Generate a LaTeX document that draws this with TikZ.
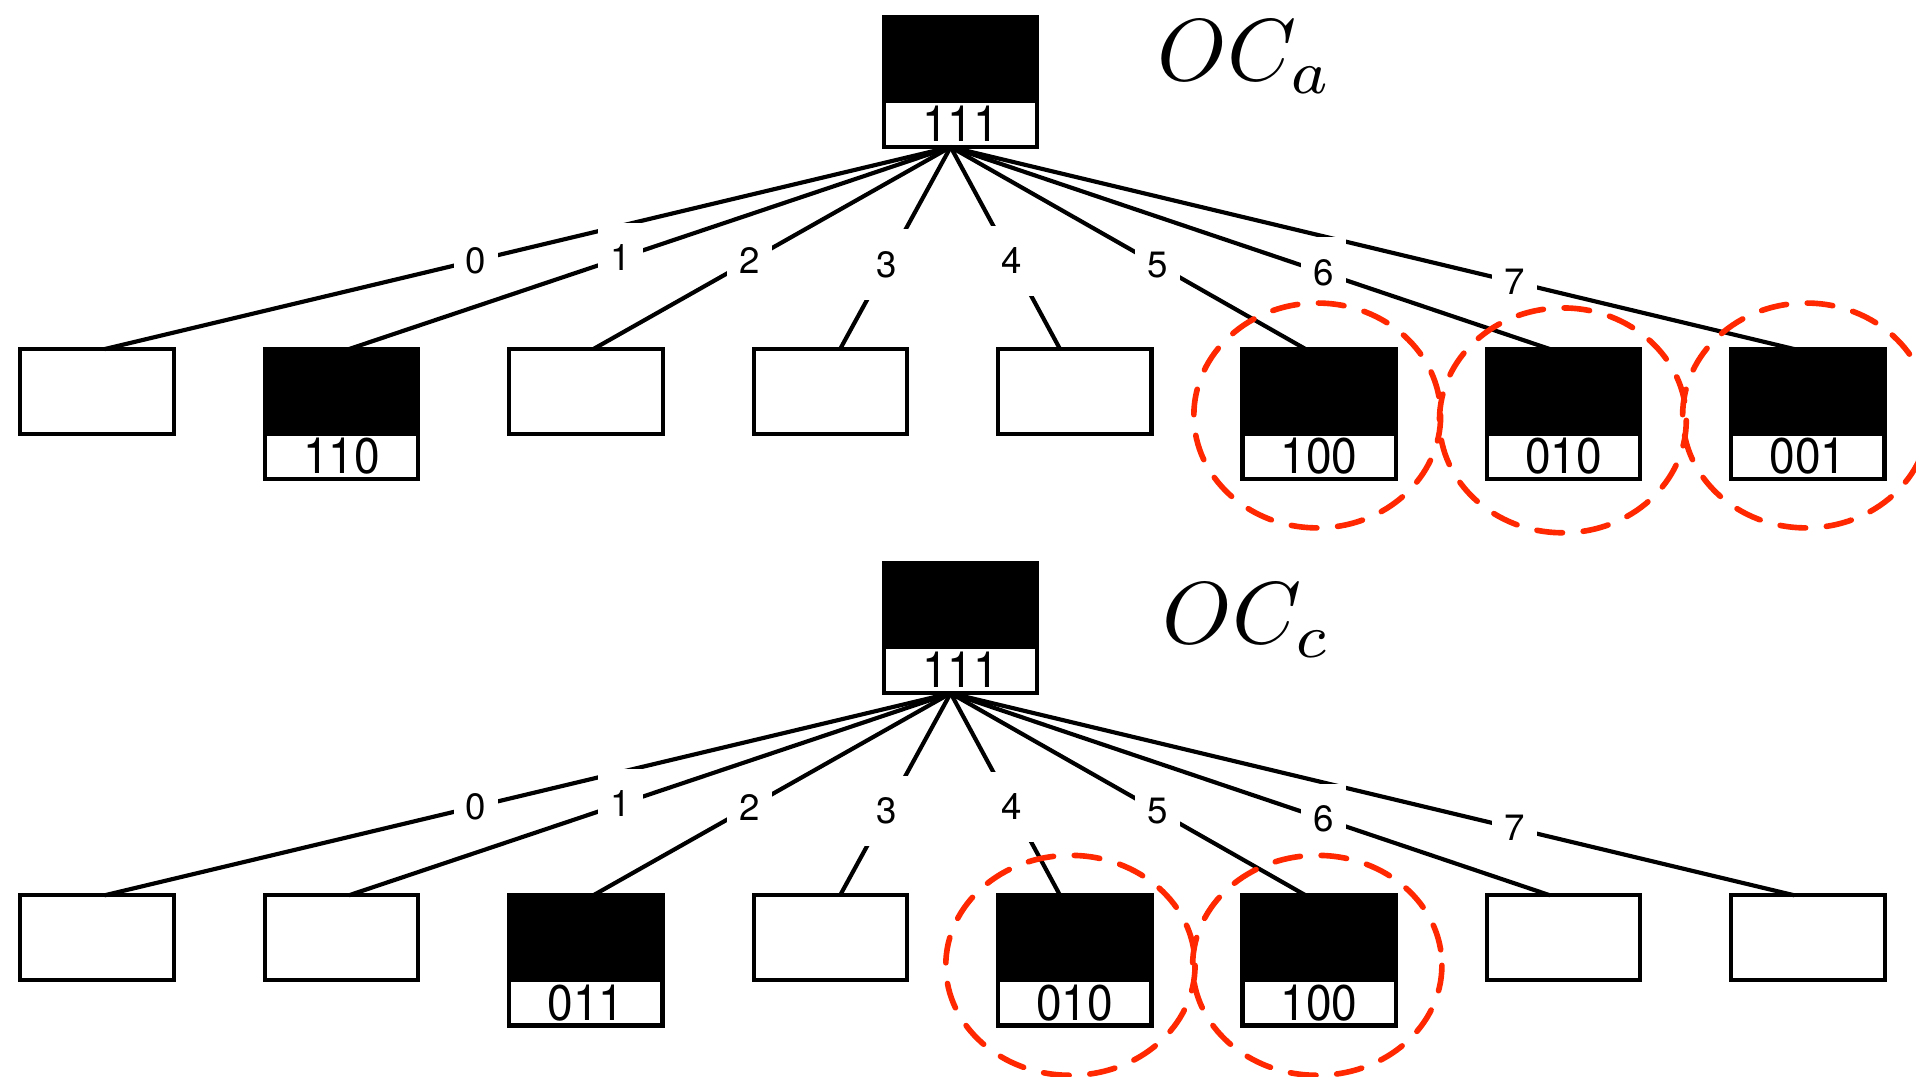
\documentclass[tikz,border=0pt]{standalone}
\usepackage{fontspec}
\setmainfont{TeX Gyre Heros}
\newfontfamily\tagfont[FakeStretch=0.92]{TeX Gyre Heros}
\usetikzlibrary{positioning}
\definecolor{pickred}{RGB}{255,40,0}

\begin{document}
\begin{tikzpicture}[
    x=1pt, y=-1pt,
    slot/.style={draw, line width=3.4pt, minimum width=125.6pt, minimum height=69.6pt, inner sep=0pt, outer sep=0pt},
    fullslot/.style={slot, fill=black, minimum height=106.6pt},
    rootslot/.style={fullslot, minimum width=124.6pt},
    tag/.style={fill=white, anchor=south, minimum width=122pt, minimum height=34pt, inner sep=0pt, text height=29pt, text depth=0pt, font=\tagfont\fontsize{41}{41}\selectfont},
    branch/.style={line width=3.4pt},
    digit/.style={fill=white, inner xsep=10pt, inner ysep=18pt, font=\fontsize{30}{30}\selectfont},
    title/.style={anchor=base west, inner sep=0pt, scale=7.2},
    pick/.style={draw=pickred, line width=4.6pt, dash pattern=on 21pt off 17pt, line cap=round}
]
\useasboundingbox (0,0) rectangle (1568,881);

% upper tree
\node[rootslot] (ra) at (786,67) {};
\node[tag] at ([yshift=1.7pt]ra.south) {111};
\node[title] (ta) at (946,66) {$OC_a$};
\foreach \i in {0,2,3,4} \node[slot] (a\i) at (79.5+200*\i,320.5) {};
\foreach \i/\t in {1/110,5/100,6/010,7/001} {
  \node[fullslot] (a\i) at (79.5+200*\i,339) {};
  \node[tag] at ([yshift=1.7pt]a\i.south) {\t};
}

% lower tree
\node[rootslot] (rc) at (786,514) {};
\node[tag] at ([yshift=1.7pt]rc.south) {111};
\node[title] (tc) at (950,527) {$OC_c$};
\foreach \i in {0,1,3,6,7} \node[slot] (c\i) at (79.5+200*\i,767.5) {};
\foreach \i/\t in {2/011,4/010,5/100} {
  \node[fullslot] (c\i) at (79.5+200*\i,786) {};
  \node[tag] at ([yshift=1.7pt]c\i.south) {\t};
}

% branches first, labels over all of them
\foreach \tree in {a,c} {
  \foreach \i/\dx in {0/6,1/6,2/6,3/8,4/-12,5/-11,6/-11,7/-11}
    \draw[branch] ([xshift=-8pt]r\tree.south) -- ([xshift=\dx pt]\tree\i.north);
  \foreach \i/\dx/\p in {0/6/0.561,1/6/0.548,2/6/0.563,3/8/0.582,4/-12/0.562,5/-11/0.583,6/-11/0.622,7/-11/0.668}
    \path ([xshift=-8pt]r\tree.south) -- ([xshift=\dx pt]\tree\i.north) node[digit,pos=\p] {\i};
}

% chosen children
\draw[pick] (1078,340) ellipse [x radius=101, y radius=92];
\draw[pick] (1279,344) ellipse [x radius=101, y radius=92];
\draw[pick] (1478,340) ellipse [x radius=101, y radius=92];
\draw[pick] (876,790) ellipse [x radius=102, y radius=90];
\draw[pick] (1078,790) ellipse [x radius=102, y radius=90];
\end{tikzpicture}
\end{document}
